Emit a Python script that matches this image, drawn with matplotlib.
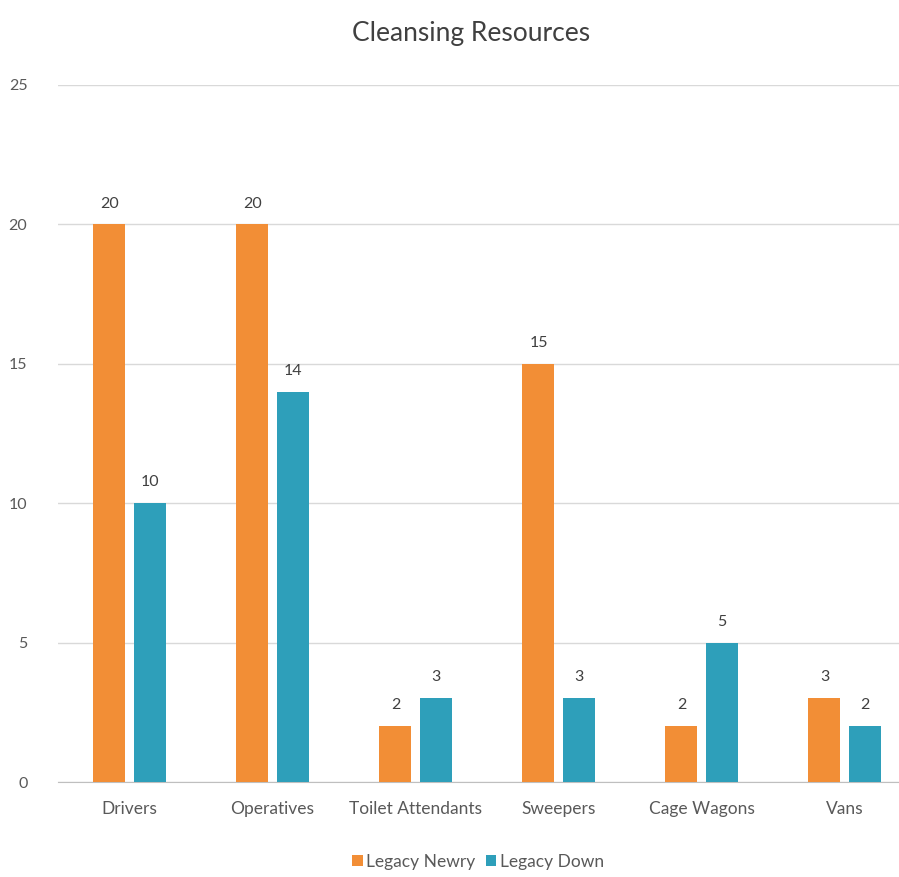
import matplotlib
matplotlib.use("Agg")
import matplotlib.pyplot as plt
import numpy as np

categories = ["Drivers", "Operatives", "Toilet Attendants", "Sweepers", "Cage Wagons", "Vans"]
legacy_newry = [20, 20, 2, 15, 2, 3]
legacy_down = [10, 14, 3, 3, 5, 2]
yticks = [0, 5, 10, 15, 20, 25]

plt.rcParams['font.family'] = ['Lato', 'DejaVu Sans']
txt = '#595959'
c_newry = '#F28E36'
c_down = '#2E9FBA'

fig = plt.figure(figsize=(8.99, 8.77), dpi=100)
ax = fig.add_axes([58/899, 1-782/877, 858/899, (782-85)/877])

x = np.arange(len(categories))
w = 0.224
off = 0.14
b1 = ax.bar(x - off, legacy_newry, w, color=c_newry, label='Legacy Newry', zorder=3)
b2 = ax.bar(x + off, legacy_down, w, color=c_down, label='Legacy Down', zorder=3)

for bars in (b1, b2):
    for r in bars:
        ax.annotate(f"{int(r.get_height())}", (r.get_x() + r.get_width()/2, r.get_height()),
                    xytext=(0, 10), textcoords='offset points', ha='center', va='bottom',
                    fontsize=11.5, color='#404040')

ax.set_xlim(-0.5, len(categories) - 0.5)
ax.set_ylim(0, 25)
ax.set_yticks(yticks)
ax.set_yticklabels([str(t) for t in yticks], color=txt, fontsize=11.5)
ax.set_xticks(x)
ax.set_xticklabels(categories, color=txt, fontsize=12.5)
ax.tick_params(axis='x', length=0, pad=14)
ax.tick_params(axis='y', length=0, pad=22)
ax.yaxis.grid(True, color='#D9D9D9', linewidth=1, zorder=0)
for s in ('top', 'right', 'left'):
    ax.spines[s].set_visible(False)
ax.spines['bottom'].set_color('#BFBFBF')

fig.text(471/899, 1-33/877, "Cleansing Resources", ha='center', va='center', fontsize=19, color='#404040')

fig.legend(handles=[b1, b2], loc='center', bbox_to_anchor=(478/899, 1-862/877), ncol=2,
           frameon=False, fontsize=12.5, labelcolor=txt, handlelength=0.6, handleheight=0.6,
           handletextpad=0.2, columnspacing=0.6)

fig.savefig('out.png', dpi=100, facecolor='white')
